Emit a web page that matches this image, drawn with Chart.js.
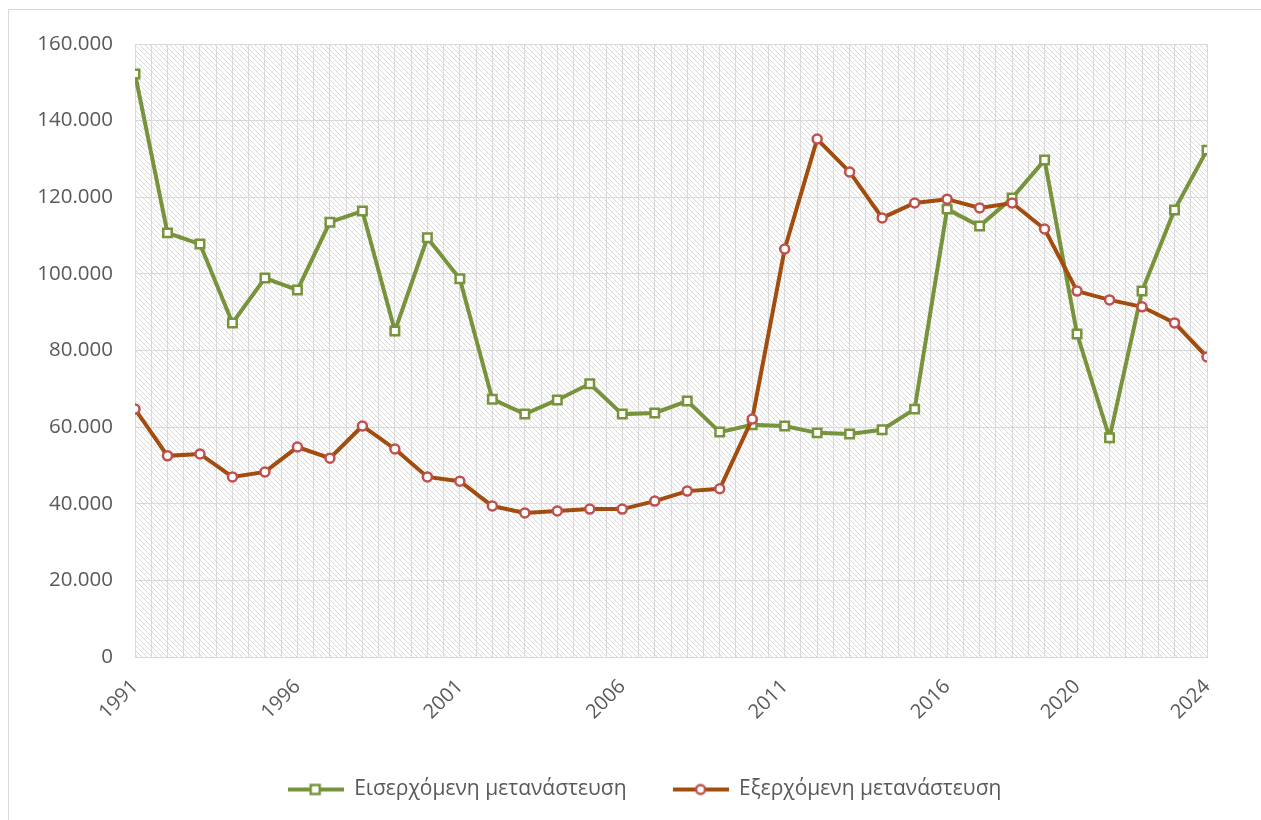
<!DOCTYPE html>
<html>
<head>
<meta charset="utf-8">
<script src="https://cdn.jsdelivr.net/npm/chart.js@4.4.1/dist/chart.umd.min.js"></script>
<style>
  html, body { margin: 0; padding: 0; background: #fff; }
  #wrap { position: relative; width: 1261px; height: 820px; overflow: hidden; }
  #frame { position: absolute; left: 8px; top: 9px; width: 1400px; height: 900px; border-left: 1px solid #d9d9d9; border-top: 1px solid #d9d9d9; }
  canvas { position: absolute; left: 0; top: 0; }
</style>
</head>
<body>
<div id="wrap">
  <div id="frame"></div>
  <canvas id="lineChart" width="1261" height="820"></canvas>
</div>
<script>
// χρόνια 1991 - 2024
const years = [1991, 1992, 1993, 1994, 1995, 1996, 1997, 1998, 1999, 2000,
    2001, 2002, 2003, 2004, 2005, 2006, 2007, 2008, 2009, 2010,
    2011, 2012, 2013, 2014, 2015, 2016, 2017, 2018, 2019, 2020,
    2021, 2022, 2023, 2024];

// Εισερχόμενη μετανάστευση
const inflow = [152200, 110700, 107800, 87200, 98900, 95800, 113500, 116400, 85100, 109400,
    98700, 67300, 63400, 67100, 71300, 63400, 63700, 66800, 58700, 60600,
    60300, 58500, 58200, 59300, 64700, 116900, 112500, 119800, 129700, 84300,
    57200, 95500, 116700, 132300];

// Εξερχόμενη μετανάστευση
const outflow = [64700, 52500, 53000, 47000, 48300, 54800, 51900, 60300, 54300, 47000,
    45900, 39400, 37600, 38100, 38600, 38600, 40700, 43300, 43900, 62100,
    106500, 135200, 126600, 114600, 118500, 119500, 117200, 118500, 111700, 95500,
    93200, 91400, 87200, 78300];

// ετικέτες που φαίνονται στον άξονα x
const shownYears = [1991, 1996, 2001, 2006, 2011, 2016, 2020, 2024];

const yTicks = [0, 20000, 40000, 60000, 80000, 100000, 120000, 140000, 160000];

const GREEN = '#77933c';
const BROWN = '#a24c0e';
const RED_MARK = '#c0504d';
const TEXT = '#595959';
const GRID = '#d9d9d9';

function fmt(v) {
    return String(v).replace(/\B(?=(\d{3})+(?!\d))/g, '.');
}

// μοτίβο διαγώνιων γραμμών για το φόντο
function makeHatch() {
    const c = document.createElement('canvas');
    c.width = 5; c.height = 5;
    const g = c.getContext('2d');
    g.fillStyle = '#dadada';
    for (let i = 0; i < 5; i++) g.fillRect(i, i, 1, 1);
    return c;
}

// εικονίδιο υπομνήματος: γραμμή με σημάδι στη μέση
function legendIcon(color, markColor, square) {
    const c = document.createElement('canvas');
    c.width = 56; c.height = 14;
    const g = c.getContext('2d');
    g.strokeStyle = color;
    g.lineWidth = 4;
    g.beginPath(); g.moveTo(0, 7); g.lineTo(56, 7); g.stroke();
    g.fillStyle = '#fff';
    g.strokeStyle = markColor;
    g.lineWidth = 2.5;
    if (square) {
        g.fillRect(23, 2.5, 9, 9); g.strokeRect(23, 2.5, 9, 9);
    } else {
        g.beginPath(); g.arc(28, 7, 4.5, 0, Math.PI * 2); g.fill(); g.stroke();
    }
    return c;
}

const hatchPlugin = {
    id: 'hatchBg',
    beforeDraw(chart) {
        const {ctx, chartArea: a} = chart;
        ctx.save();
        ctx.fillStyle = ctx.createPattern(makeHatch(), 'repeat');
        ctx.fillRect(a.left, a.top, a.right - a.left, a.bottom - a.top);
        ctx.restore();
    }
};

// μετακίνηση του υπομνήματος λίγο δεξιά
const legendShift = {
    id: 'legendShift',
    afterLayout(chart) {
        const lg = chart.legend;
        lg.left += 41;
        lg.right += 41;
    }
};

const toPoints = (arr) => years.map((y, i) => ({x: y, y: arr[i]}));

const ctx = document.getElementById('lineChart').getContext('2d');
const lineChart = new Chart(ctx, {
    type: 'line',
    data: {
        datasets: [{
            label: 'Εξερχόμενη μετανάστευση',
            data: toPoints(outflow),
            borderColor: BROWN,
            borderWidth: 4,
            pointStyle: 'circle',
            pointRadius: 4.5,
            pointBorderWidth: 2.5,
            pointBorderColor: RED_MARK,
            pointBackgroundColor: '#fff',
            tension: 0,
            fill: false,
        }, {
            label: 'Εισερχόμενη μετανάστευση',
            data: toPoints(inflow),
            borderColor: GREEN,
            borderWidth: 4,
            pointStyle: 'rect',
            pointRadius: 6,
            pointBorderWidth: 2.5,
            pointBorderColor: GREEN,
            pointBackgroundColor: '#fff',
            tension: 0,
            fill: false,
        }],
    },
    options: {
        responsive: false,
        animation: false,
        layout: {padding: {left: 0, right: 54, top: 44, bottom: 10}},
        plugins: {
            tooltip: {enabled: false},
            legend: {
                position: 'bottom',
                reverse: true,
                labels: {
                    usePointStyle: true,
                    pointStyleWidth: 56,
                    padding: 46,
                    color: TEXT,
                    font: {family: 'Open Sans', size: 21},
                    generateLabels(chart) {
                        return chart.data.datasets.map((ds, i) => ({
                            text: ds.label,
                            datasetIndex: i,
                            fontColor: TEXT,
                            lineWidth: 0,
                            pointStyle: i === 1 ? legendIcon(GREEN, GREEN, true) : legendIcon(BROWN, RED_MARK, false),
                        }));
                    }
                }
            }
        },
        scales: {
            x: {
                type: 'linear',
                min: 1991,
                max: 2024,
                afterFit(scale) { scale.height = 76; },
                grid: {color: GRID, drawTicks: false},
                border: {color: GRID},
                ticks: {
                    stepSize: 0.5,
                    maxTicksLimit: 200,
                    autoSkip: false,
                    maxRotation: 45,
                    minRotation: 45,
                    padding: 18,
                    color: TEXT,
                    font: {family: 'Open Sans', size: 20},
                    callback: (v) => shownYears.includes(v) ? String(v) : '',
                }
            },
            y: {
                min: 0,
                max: 160000,
                afterFit(scale) { scale.width = 135; },
                afterBuildTicks(scale) { scale.ticks = yTicks.map(v => ({value: v})); },
                grid: {color: GRID, drawTicks: false},
                border: {color: GRID},
                ticks: {
                    padding: 22,
                    color: TEXT,
                    font: {family: 'Open Sans', size: 20.5},
                    callback: (v) => fmt(v),
                }
            }
        }
    },
    plugins: [hatchPlugin, legendShift]
});
</script>
</body>
</html>
